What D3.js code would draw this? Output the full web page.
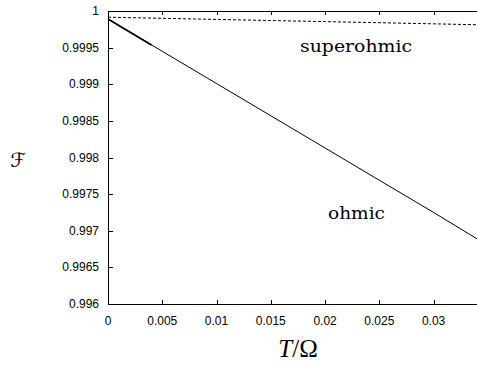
<!DOCTYPE html>
<html><head><meta charset="utf-8">
<script src="https://cdn.jsdelivr.net/npm/d3@7"></script>
<style>body{margin:0;background:#fff}svg{display:block}</style>
</head><body>
<svg id="c" width="477" height="366"></svg>
<script>
const xTicks = [0, 0.005, 0.01, 0.015, 0.02, 0.025, 0.03];
const xTickLabels = ["0", "0.005", "0.01", "0.015", "0.02", "0.025", "0.03"];
const yTicks = [0.996, 0.9965, 0.997, 0.9975, 0.998, 0.9985, 0.999, 0.9995, 1];
const yTickLabels = ["0.996", "0.9965", "0.997", "0.9975", "0.998", "0.9985", "0.999", "0.9995", "1"];
const T = [0, 0.005, 0.01, 0.015, 0.02, 0.025, 0.03, 0.034];
const ohmic = [0.99989, 0.99945, 0.99901, 0.99857, 0.99813, 0.99769, 0.99725, 0.99689];
const superohmic = [0.999915, 0.9999, 0.999885, 0.99987, 0.999855, 0.99984, 0.999825, 0.999812];
const Tlow = [0, 0.004];
const ohmicLow = [0.99989, 0.999537];

const svg = d3.select("#c");
const x = d3.scaleLinear().domain([0, 0.034]).range([108, 477]);
const y = d3.scaleLinear().domain([0.996, 1]).range([304, 11]);

const g = svg.append("g").attr("shape-rendering", "crispEdges");
// border lines
g.append("line").attr("x1", 108.5).attr("x2", 108.5).attr("y1", y(1)).attr("y2", y(0.996)).attr("stroke", "#000");
g.append("line").attr("x1", 108).attr("x2", 477).attr("y1", 304.5).attr("y2", 304.5).attr("stroke", "#000");
g.append("line").attr("x1", 108).attr("x2", 477).attr("y1", 11.5).attr("y2", 11.5).attr("stroke", "#000");

// ticks
yTicks.forEach((v) => {
  g.append("line").attr("x1", 108).attr("x2", 113).attr("y1", Math.round(y(v)) + 0.5).attr("y2", Math.round(y(v)) + 0.5).attr("stroke", "#000");
});
xTicks.forEach((v) => {
  const px = Math.round(x(v)) + 0.5;
  g.append("line").attr("x1", px).attr("x2", px).attr("y1", 304).attr("y2", 300).attr("stroke", "#000");
  g.append("line").attr("x1", px).attr("x2", px).attr("y1", 11).attr("y2", 15).attr("stroke", "#000");
});

const tf = "'Liberation Sans', Arial, sans-serif";
yTicks.forEach((v, i) => {
  svg.append("text").attr("x", 99).attr("y", y(v) + 4).attr("text-anchor", "end")
    .attr("font-family", tf).attr("font-size", 12).text(yTickLabels[i]);
});
xTicks.forEach((v, i) => {
  svg.append("text").attr("x", x(v)).attr("y", 325).attr("text-anchor", "middle")
    .attr("font-family", tf).attr("font-size", 12).text(xTickLabels[i]);
});

const line = d3.line().x(d => x(d[0])).y(d => y(d[1]));
svg.append("path").attr("d", line(T.map((t, i) => [t, ohmic[i]]))).attr("fill", "none").attr("stroke", "#000").attr("stroke-width", 1);
svg.append("path").attr("d", line(Tlow.map((t, i) => [t, ohmicLow[i]]))).attr("fill", "none").attr("stroke", "#000").attr("stroke-width", 1.8);
svg.append("path").attr("d", line(T.map((t, i) => [t, superohmic[i]]))).attr("fill", "none").attr("stroke", "#000").attr("stroke-width", 1).attr("stroke-dasharray", "3,2");

const sf = "'DejaVu Serif', serif";
svg.append("text").attr("x", 300).attr("y", 52).attr("font-family", sf).attr("font-size", 16)
  .attr("textLength", 112).attr("lengthAdjust", "spacingAndGlyphs").text("superohmic");
svg.append("text").attr("x", 328).attr("y", 219).attr("font-family", sf).attr("font-size", 16)
  .attr("textLength", 57).attr("lengthAdjust", "spacingAndGlyphs").text("ohmic");

const xl = svg.append("text").attr("x", 298).attr("y", 357).attr("text-anchor", "middle")
  .attr("font-family", "'Liberation Serif', serif").attr("font-size", 25);
xl.append("tspan").attr("font-style", "italic").text("T");
xl.append("tspan").text("/Ω");

svg.append("text").attr("x", 18).attr("y", 167).attr("text-anchor", "middle")
  .attr("font-family", "'DejaVu Sans', serif").attr("font-size", 20).text("ℱ");
</script>
</body></html>
